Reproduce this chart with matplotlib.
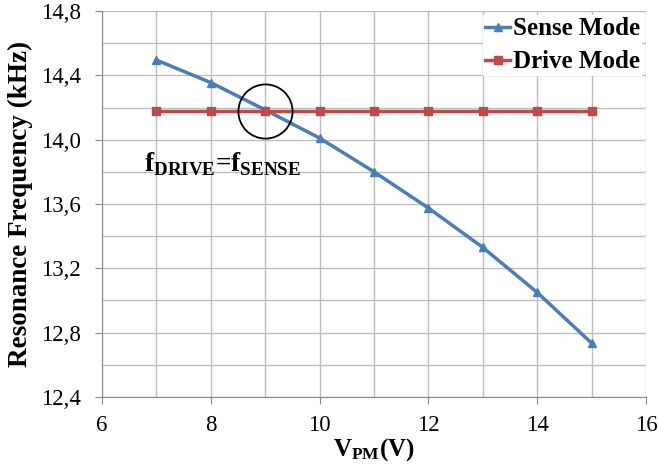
import matplotlib
matplotlib.use('Agg')
import matplotlib.pyplot as plt
from matplotlib.ticker import MultipleLocator, FuncFormatter

# Données
v_pm = [7, 8, 9, 10, 11, 12, 13, 14, 15]
sense_mode = [14.495, 14.355, 14.185, 14.01, 13.80, 13.575, 13.33, 13.05, 12.735]
drive_mode = [14.18, 14.18, 14.18, 14.18, 14.18, 14.18, 14.18, 14.18, 14.18]
x_ticks = [6, 8, 10, 12, 14, 16]
y_ticks = [12.4, 12.8, 13.2, 13.6, 14.0, 14.4, 14.8]

plt.rcParams['font.family'] = ['Liberation Serif', 'DejaVu Serif']
plt.rcParams['mathtext.fontset'] = 'custom'
plt.rcParams['mathtext.rm'] = 'Liberation Serif'
plt.rcParams['mathtext.bf'] = 'Liberation Serif:bold'

fig = plt.figure(figsize=(6.59, 4.70), dpi=100)
ax = fig.add_axes([102 / 659, 1 - 397 / 470, 544 / 659, 386 / 470])

ax.plot(v_pm, sense_mode, color='#4A7EBB', lw=2.5, marker='^', ms=6, label='Sense Mode', zorder=3)
ax.plot(v_pm, drive_mode, color='#BE4B48', lw=2.5, marker='s', ms=5.5, label='Drive Mode', zorder=3)

# Cercle autour du point de croisement
i = v_pm.index(9)
ax.plot([v_pm[i]], [drive_mode[i]], marker='o', ms=39, mfc='none', mec='black', mew=1.3, zorder=4)
ax.text(v_pm[i] - 0.78, 13.85, r'$\mathbf{f}_{\mathbf{DRIVE}}$=$\mathbf{f}_{\mathbf{SENSE}}$',
        fontsize=19.5, fontweight='bold', ha='center', va='center')

ax.set_xlim(6, 16)
ax.set_ylim(12.4, 14.8)
ax.set_xticks(x_ticks)
ax.set_yticks(y_ticks)
ax.xaxis.set_minor_locator(MultipleLocator(1))
ax.yaxis.set_minor_locator(MultipleLocator(0.2))
ax.yaxis.set_major_formatter(FuncFormatter(lambda v, p: f'{v:.1f}'.replace('.', ',')))
ax.grid(True, which='both', color='#BDBDBD', lw=1)
ax.tick_params(which='minor', length=0)
ax.tick_params(which='major', length=5, color='#888888', labelsize=16.5)
ax.tick_params(axis='y', pad=10)
ax.tick_params(axis='x', pad=8)
for s in ['top', 'right']:
    ax.spines[s].set_visible(False)
for s in ['left', 'bottom']:
    ax.spines[s].set_color('#888888')

ax.set_xlabel(r'$\mathbf{V_{PM}}$(V)', fontsize=18, fontweight='bold', labelpad=0)
ax.set_ylabel('Resonance Frequency (kHz)', fontsize=19.5, fontweight='bold', labelpad=6)

leg = ax.legend(loc='upper right', prop={'weight': 'bold', 'size': 18}, frameon=True,
                handlelength=1.0, handletextpad=0.1, borderpad=0.1, borderaxespad=0.15,
                labelspacing=0.4, fancybox=False, edgecolor='none', framealpha=1)

plt.savefig('out.png', dpi=100)
